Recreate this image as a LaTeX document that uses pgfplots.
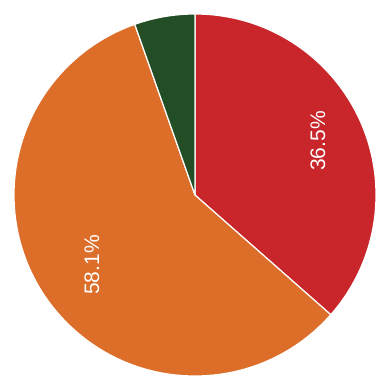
\documentclass[border=0pt]{standalone}
\usepackage{pgfplots}
\usepackage{pgfplotstable}
\pgfplotsset{compat=1.18}
\usepackage{fontspec}
\setmainfont{Liberation Sans}
\definecolor{cred}{RGB}{200,38,42}
\definecolor{corange}{RGB}{221,110,42}
\definecolor{cgreen}{RGB}{35,77,37}
\pgfplotstableread{
share
36.5
58.1
5.4
}\piedata
\begin{document}
\begin{tikzpicture}
\pgfplotstablegetelem{0}{share}\of\piedata \let\vA\pgfplotsretval
\pgfplotstablegetelem{1}{share}\of\piedata \let\vB\pgfplotsretval
\pgfplotstablegetelem{2}{share}\of\piedata \let\vC\pgfplotsretval
\pgfmathsetmacro{\aA}{90}
\pgfmathsetmacro{\aB}{90-3.6*\vA}
\pgfmathsetmacro{\aC}{\aB-3.6*\vB}
\pgfmathsetmacro{\aD}{\aC-3.6*\vC}
\begin{axis}[
  at={(0,0)}, anchor=south west,
  scale only axis, width=382pt, height=383pt,
  xmin=0, xmax=382, ymin=0, ymax=383,
  hide axis, clip=false,
]
\fill[cred, draw=white, line width=1.2pt, line join=round]
  (axis cs:195,188) -- ++(\aA:181pt) arc[start angle=\aA, end angle=\aB, radius=181pt] -- cycle;
\fill[corange, draw=white, line width=1.2pt, line join=round]
  (axis cs:195,188) -- ++(\aB:181pt) arc[start angle=\aB, end angle=\aC, radius=181pt] -- cycle;
\fill[cgreen, draw=white, line width=1.2pt, line join=round]
  (axis cs:195,188) -- ++(\aC:181pt) arc[start angle=\aC, end angle=\aD, radius=181pt] -- cycle;
\node[rotate=90, text=white, font=\fontsize{21}{22}\selectfont] at (axis cs:318,242) {\vA\%};
\node[rotate=90, text=white, font=\fontsize{21}{22}\selectfont] at (axis cs:92,118) {\vB\%};
\end{axis}
\pgfresetboundingbox
\useasboundingbox (0,0) rectangle (382pt,383pt);
\end{tikzpicture}
\end{document}
